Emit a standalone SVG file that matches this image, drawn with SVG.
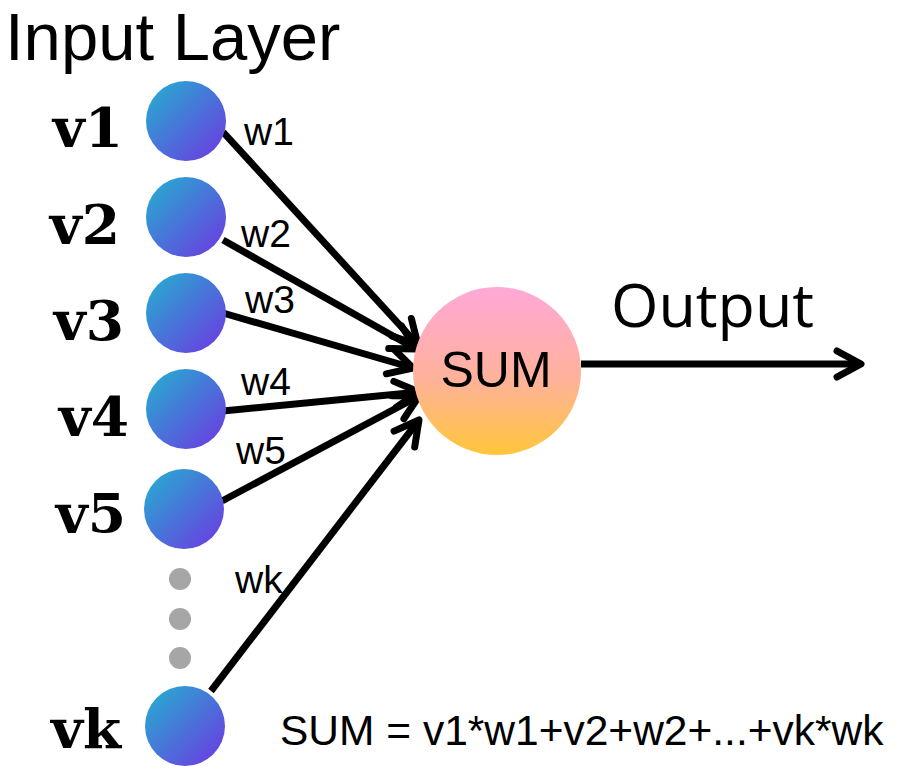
<svg xmlns="http://www.w3.org/2000/svg" width="902" height="776" viewBox="0 0 902 776">
<style>
.in{fill:url(#gIn)}
.lbl{font-family:"DejaVu Serif",serif;font-weight:bold;font-size:55px;fill:#000;text-anchor:end}
.w{font-family:"Liberation Sans",Arial,sans-serif;font-size:39px;fill:#000}
.edge{stroke:#000;stroke-width:7;fill:none;marker-end:url(#ah)}
.dot{fill:#a6a6a6}
</style>
<defs>
<linearGradient id="gIn" x1="0" y1="0" x2="1" y2="1">
<stop offset="0" stop-color="#22b3cf"/>
<stop offset="1" stop-color="#6f35e3"/>
</linearGradient>
<linearGradient id="gSum" x1="0" y1="0" x2="0" y2="1">
<stop offset="0" stop-color="#ffa8d8"/>
<stop offset="0.55" stop-color="#ffb29a"/>
<stop offset="1" stop-color="#ffc63a"/>
</linearGradient>
<marker id="ah" markerUnits="userSpaceOnUse" markerWidth="40" markerHeight="40" viewBox="-30 -20 40 40" refX="0" refY="0" orient="auto" overflow="visible">
<path d="M -24 -13 L 0 0 L -24 13" stroke="#000" stroke-width="7" fill="none" stroke-linecap="round" stroke-linejoin="round"/>
</marker>
</defs>
<text x="5" y="60" font-family="Liberation Sans, Arial, sans-serif" font-size="67" fill="#000">Input Layer</text>
<g id="connectors">
<line class="edge" x1="223" y1="132" x2="418" y2="345"/>
<line class="edge" x1="223" y1="240" x2="416" y2="349"/>
<line class="edge" x1="223" y1="313" x2="413" y2="368"/>
<line class="edge" x1="223" y1="411" x2="419" y2="392"/>
<line class="edge" x1="222" y1="501" x2="419" y2="396"/>
<line class="edge" x1="211" y1="691" x2="419" y2="420"/>
<line class="edge" x1="581" y1="364" x2="861" y2="364"/>
</g>
<g id="v1"><circle class="in" cx="186" cy="121" r="40"/><text class="lbl" x="123" y="147">v1</text></g>
<g id="v2"><circle class="in" cx="186" cy="217" r="40"/><text class="lbl" x="120" y="244">v2</text></g>
<g id="v3"><circle class="in" cx="186" cy="313" r="40"/><text class="lbl" x="124" y="340">v3</text></g>
<g id="v4"><circle class="in" cx="186" cy="409" r="40"/><text class="lbl" x="129" y="436">v4</text></g>
<g id="v5"><circle class="in" cx="184" cy="509" r="40"/><text class="lbl" x="126" y="533">v5</text></g>
<g id="dots"><circle class="dot" cx="180" cy="579" r="11"/><circle class="dot" cx="180" cy="619" r="11"/><circle class="dot" cx="180" cy="658" r="11"/></g>
<g id="vk"><circle class="in" cx="185" cy="726" r="40"/><text class="lbl" x="121" y="748">vk</text></g>
<g id="weights">
<text class="w" x="244" y="145">w1</text>
<text class="w" x="241" y="247">w2</text>
<text class="w" x="245" y="313">w3</text>
<text class="w" x="241" y="395">w4</text>
<text class="w" x="236" y="464">w5</text>
<text class="w" x="235" y="593">wk</text>
</g>
<g id="sum"><circle cx="497" cy="371" r="84" fill="url(#gSum)"/><text x="496" y="387" text-anchor="middle" font-family="Liberation Sans, Arial, sans-serif" font-size="50" fill="#000">SUM</text></g>
<text x="611" y="327" font-family="Open Sans, sans-serif" font-size="61" fill="#000">Output</text>
<text x="280" y="745" font-family="Liberation Sans, Arial, sans-serif" font-size="42.5" fill="#000">SUM = v1*w1+v2+w2+...+vk*wk</text>
</svg>
